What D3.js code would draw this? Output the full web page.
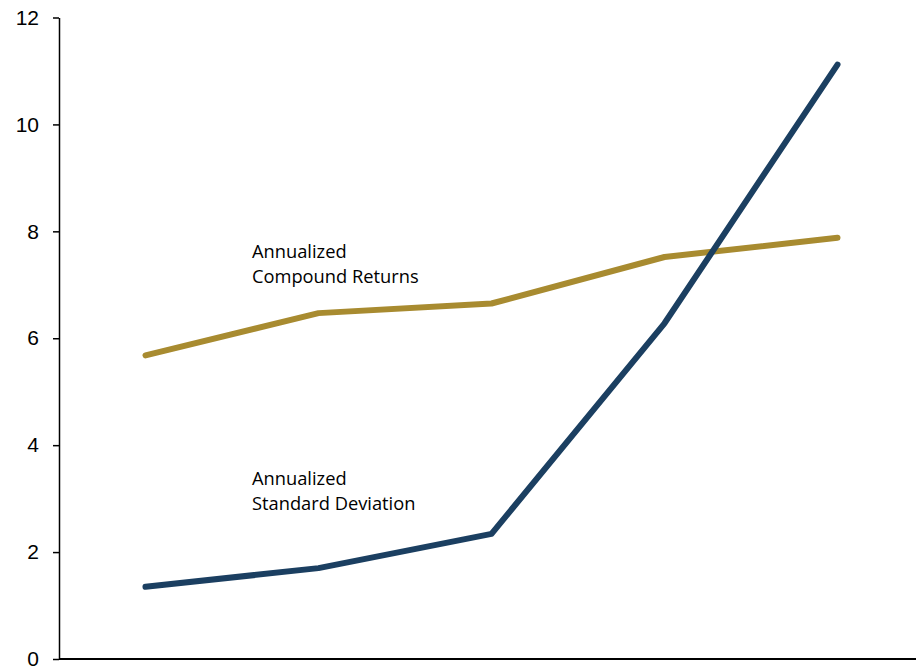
<!DOCTYPE html>
<html><head><meta charset="utf-8">
<script src="https://cdn.jsdelivr.net/npm/d3@7"></script>
<style>body{margin:0;background:#fff}svg{display:block}</style>
</head><body>
<svg id="c" width="916" height="671"></svg>
<script>
const categories = ["Portfolio 1","Portfolio 2","Portfolio 3","Portfolio 4","Portfolio 5"];
const compoundReturns = [5.68, 6.47, 6.65, 7.52, 7.88];
const standardDeviation = [1.35, 1.70, 2.34, 6.28, 11.12];
const yTicks = [0, 2, 4, 6, 8, 10, 12];
const labelReturns = ["Annualized", "Compound Returns"];
const labelStdDev = ["Annualized", "Standard Deviation"];

(function () {
const svg = d3.select("#c");
const W = 916;
const mLeft = 59, mBottom = 659, mTop = 17.5;

const x = d3.scalePoint().domain(categories).range([mLeft, 924]).padding(0.5);
const y = d3.scaleLinear().domain([0, 12]).range([mBottom, mTop]);

// y axis
const yAxis = svg.append("g").attr("transform", `translate(${mLeft},0)`)
  .call(d3.axisLeft(y).tickValues(yTicks).tickSize(6).tickPadding(14).tickSizeOuter(0));
yAxis.select(".domain").attr("stroke", "#000").attr("stroke-width", 1.5);
yAxis.selectAll(".tick line").attr("stroke", "#000").attr("stroke-width", 1.5);
yAxis.selectAll(".tick text").attr("font-family", "Liberation Sans, Arial, sans-serif")
  .attr("font-size", 21).attr("fill", "#000");

// x axis line
svg.append("line").attr("x1", mLeft).attr("x2", W).attr("y1", mBottom).attr("y2", mBottom)
  .attr("stroke", "#000").attr("stroke-width", 2);

const line = d3.line().x((d, i) => x(categories[i])).y(d => y(d));

svg.append("path").datum(compoundReturns).attr("d", line)
  .attr("fill", "none").attr("stroke", "#a88b30").attr("stroke-width", 6)
  .attr("stroke-linecap", "round").attr("stroke-linejoin", "round");
svg.append("path").datum(standardDeviation).attr("d", line)
  .attr("fill", "none").attr("stroke", "#1b3f61").attr("stroke-width", 6)
  .attr("stroke-linecap", "round").attr("stroke-linejoin", "round");

function label(lines, x0, y0) {
  const t = svg.append("text").attr("x", x0).attr("y", y0)
    .attr("font-family", "Open Sans, sans-serif").attr("font-size", 18.3).attr("fill", "#000");
  lines.forEach((s, i) => t.append("tspan").attr("x", x0).attr("dy", i ? 25 : 0).text(s));
}
label(labelReturns, 252, 258);
label(labelStdDev, 252, 485);
})();
</script>
</body></html>
